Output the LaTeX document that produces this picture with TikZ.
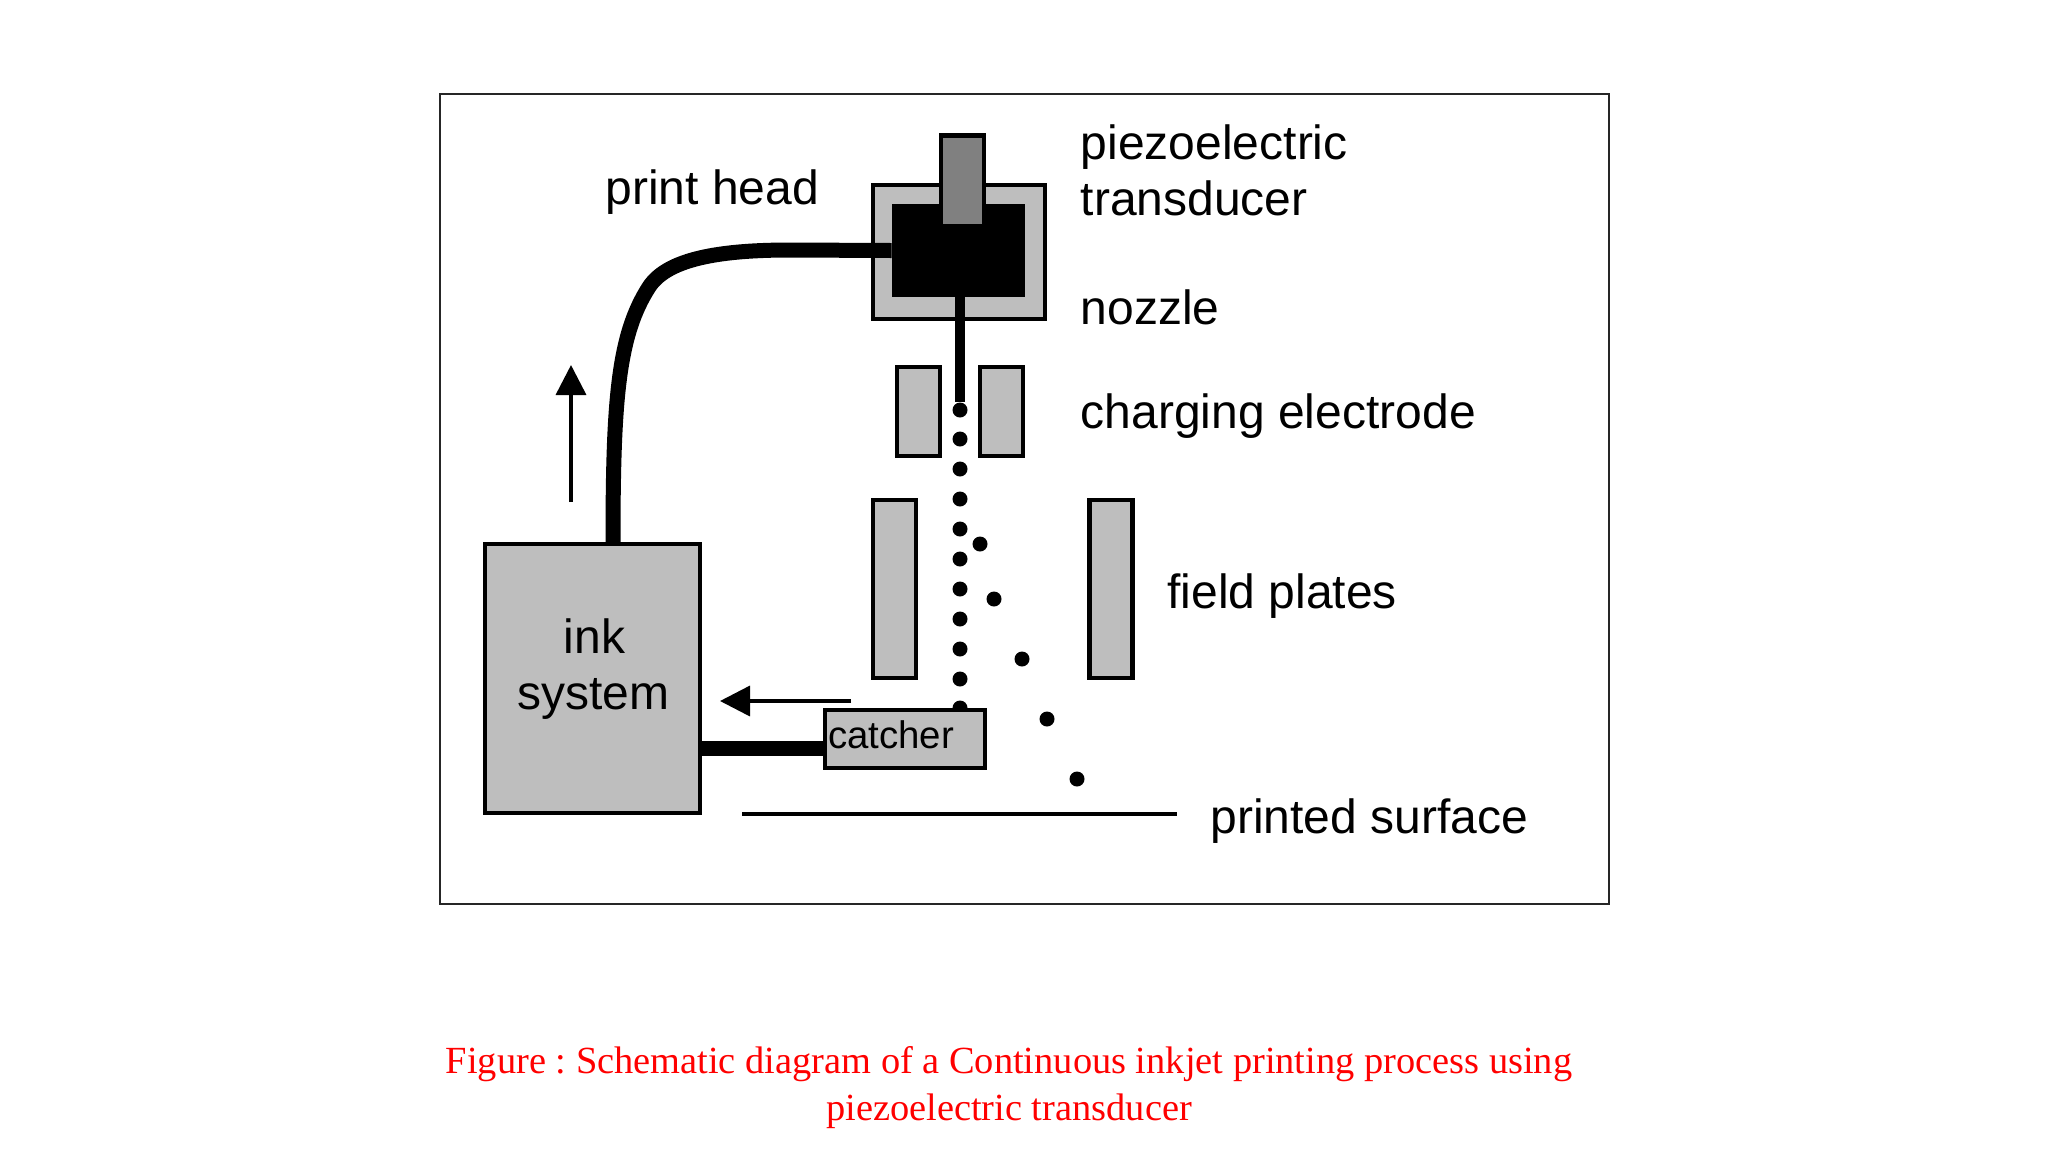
\documentclass[tikz,border=0pt]{standalone}
\usepackage{fontspec}
\setmainfont{Liberation Sans}
\newfontfamily\capfont{Liberation Serif}
\usetikzlibrary{arrows.meta}
\definecolor{partgray}{HTML}{BEBEBE}
\definecolor{pztgray}{HTML}{808080}

\begin{document}
\begin{tikzpicture}
		[x=0.5pt, y=-0.5pt,
		partsty/.style={rectangle, draw=black, fill=partgray, line width=2.2pt, inner sep=0},
		dropsty/.style={circle, fill=black, inner sep=0, minimum size=7.5pt},
		labelsty/.style={anchor=base west, inner sep=0, font=\fontsize{24}{28}\selectfont},
		tubesty/.style={line width=7.5pt},
		flowsty/.style={line width=1.8pt, -{Triangle[length=15pt,width=15pt]}}]
		\useasboundingbox (0,0) rectangle (2048,1152);
		\node (frame) at (1024,498.5) [draw=black!85, line width=1pt, inner sep=0, minimum width=584.5pt, minimum height=405pt] {};
		
		% print head
		\node (head) at (959,252) [partsty, minimum width=86pt, minimum height=67pt] {};
		\node (chamber) at (958.5,250.5) [fill=black, inner sep=0, minimum width=66.5pt, minimum height=46.5pt] {};
		\node (pzt) at (962.5,181) [partsty, fill=pztgray, minimum width=21.5pt, minimum height=45.5pt] {};
		
		% electrodes and plates
		\node (elec 1) at (918.5,411.5) [partsty, minimum width=21.5pt, minimum height=44.5pt] {};
		\node (elec 2) at (1001.5,411.5) [partsty, minimum width=21.5pt, minimum height=44.5pt] {};
		\node (plate 1) at (894.5,589) [partsty, minimum width=21.5pt, minimum height=89pt] {};
		\node (plate 2) at (1111,589) [partsty, minimum width=21.5pt, minimum height=89pt] {};
		
		% drops
		\foreach \i/\ypos in {1/410,2/439,3/469,4/499,5/529,6/559,7/589,8/619,9/649,10/679,11/708}
			\node (drop \i) at (960,\ypos) [dropsty] {};
		\foreach \i/\xpos/\ypos in {1/980/544,2/994/599,3/1022/659,4/1047/719,5/1077/779}
			\node (side \i) at (\xpos,\ypos) [dropsty] {};
		
		\node (ink) at (592.5,678.5) [partsty, minimum width=107.5pt, minimum height=134.5pt] {};
		\node (catcher) at (905,739) [partsty, text width=77pt, inner xsep=1.5pt, minimum height=29pt, text depth=4pt, align=left, font=\fontsize{19.2}{22}\selectfont] {catcher};
		
		\draw[line width=5pt] (chamber.south -| drop 1) -- (drop 1);
		\draw[tubesty] ([xshift=10.25pt]ink.north) .. controls (613,400) and (618,335) .. (649,287)
			.. controls (666,261) and (712,250) .. (790,250) -- (chamber.west);
		\coordinate (link) at ([yshift=-4.5pt]catcher.west);
		\draw[tubesty] (link -| ink.east) -- (link);
		
		% flow arrows
		\coordinate (up 1) at (571,502);
		\coordinate (up 2) at (571,365);
		\coordinate (back 1) at (851,701);
		\coordinate (back 2) at (720,701);
		\draw[flowsty] (up 1) -- (up 2);
		\draw[flowsty] (back 1) -- (back 2);
		
		\coordinate (surf 1) at (742,814);
		\coordinate (surf 2) at (1177,814);
		\draw[line width=2pt] (surf 1) -- (surf 2);
		
		\node (text 1) at (605,204) [labelsty] {print head};
		\node (text 2) at (1080.5,159) [labelsty] {piezoelectric};
		\node (text 3) at (1080.5,215) [labelsty] {transducer};
		\node (text 4) at (1080.5,324) [labelsty] {nozzle};
		\node (text 5) at (1080.5,428) [labelsty] {charging electrode};
		\node (text 6) at (1167,608) [labelsty] {field plates};
		\node (text 7) at (1210,833) [labelsty] {printed surface};
		\node (text 8) at (594.5,653) [labelsty, anchor=base] {ink};
		\node (text 9) at (593,709) [labelsty, anchor=base] {system};
		
		\node (caption) at (1009,1087.5) [text=red, align=center, inner sep=0, font=\capfont\frenchspacing\fontsize{19.2}{23.5}\selectfont] {Figure : Schematic diagram of a Continuous inkjet printing process using\\piezoelectric transducer};
	\end{tikzpicture}
\end{document}
